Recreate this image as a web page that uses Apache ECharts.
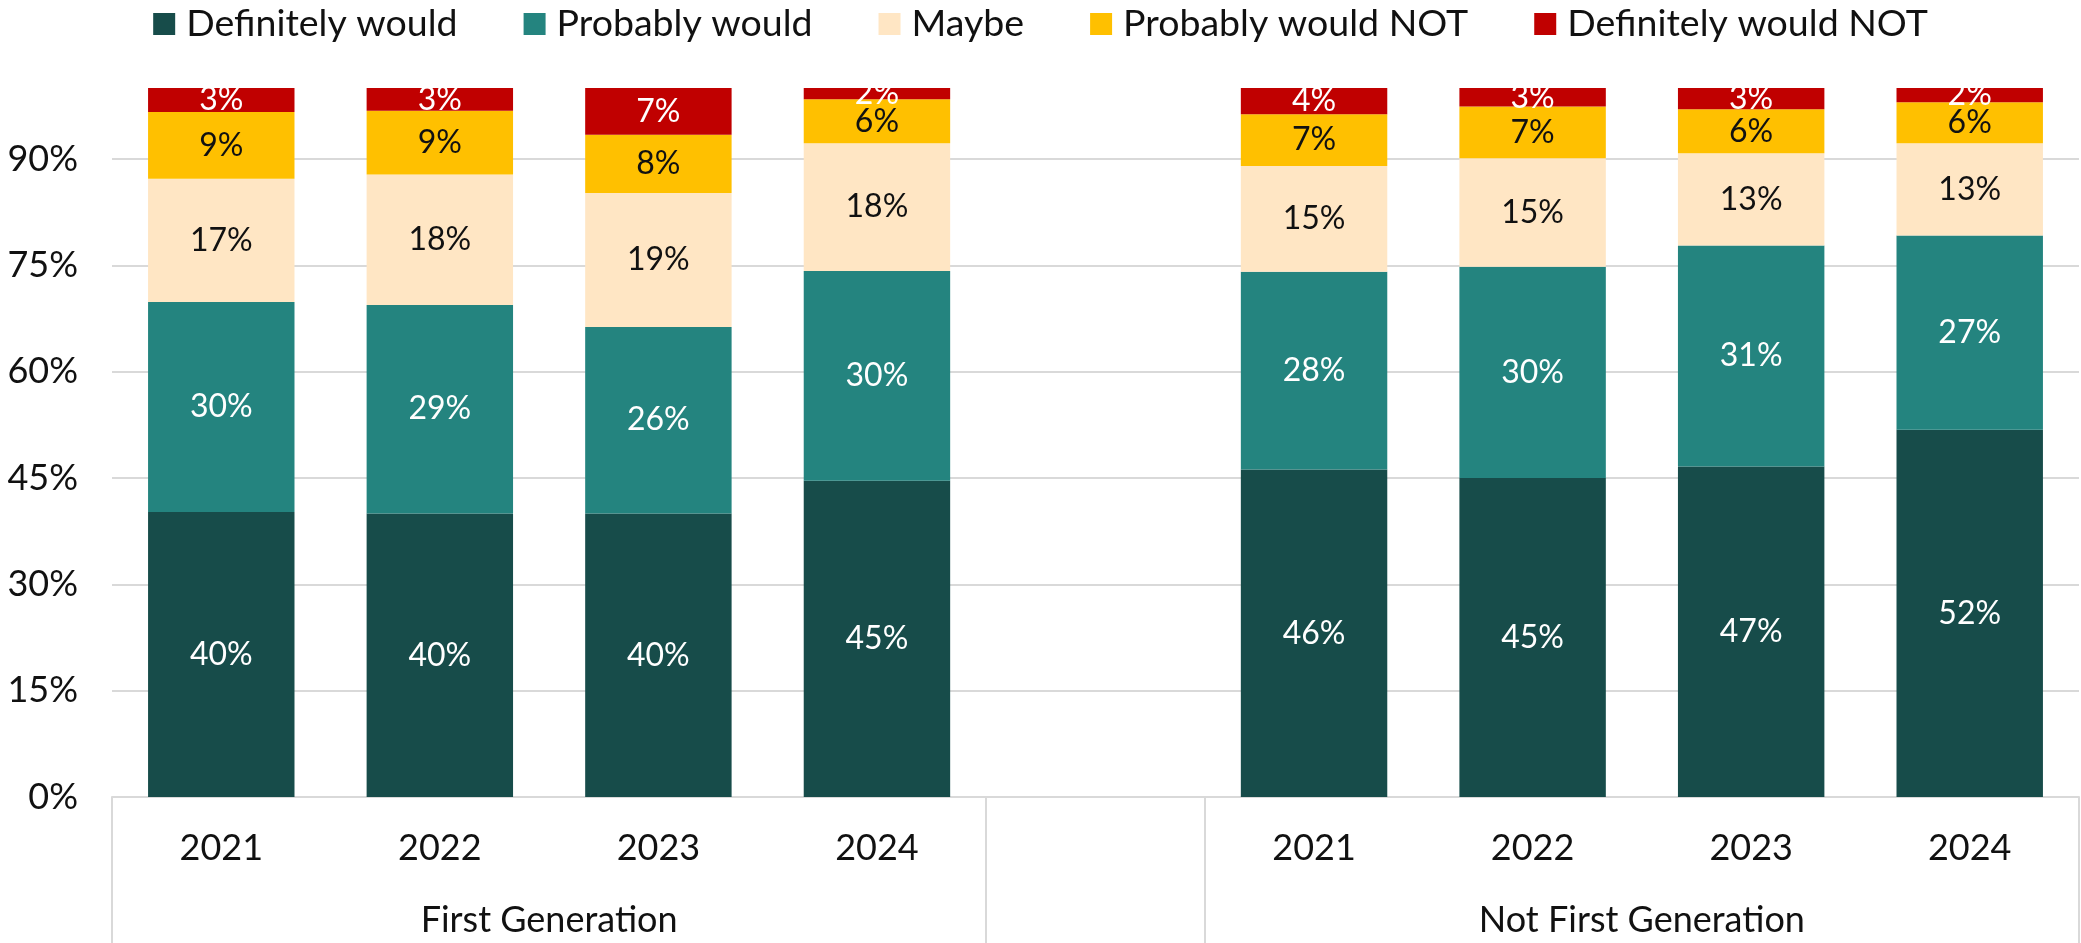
<!DOCTYPE html>
<html>
<head>
<meta charset="utf-8">
<script src="https://cdn.jsdelivr.net/npm/echarts@6.0.0/dist/echarts.min.js"></script>
<style>
html,body{margin:0;padding:0;background:#fff;}
#chart{width:2081px;height:943px;}
</style>
</head>
<body>
<div id="chart"></div>
<script>
// ---- data ----
const years = ['2021', '2022', '2023', '2024'];
const groups = ['First Generation', 'Not First Generation'];
const seriesNames = ['Definitely would', 'Probably would', 'Maybe', 'Probably would NOT', 'Definitely would NOT'];
const yTicks = [0, 15, 30, 45, 60, 75, 90];

// values per year: First Generation (4) then Not First Generation (4)
const definitelyWould   = [40.2, 40.0, 40.0, 44.6, 46.2, 45.0, 46.6, 51.8];
const probablyWould     = [29.6, 29.4, 26.3, 29.6, 27.9, 29.8, 31.2, 27.4];
const maybe             = [17.4, 18.4, 18.9, 18.0, 14.9, 15.3, 13.0, 13.0];
const probablyWouldNot  = [9.4, 9.0, 8.2, 6.2, 7.3, 7.3, 6.2, 5.8];
const definitelyWouldNot= [3.4, 3.2, 6.6, 1.6, 3.7, 2.6, 3.0, 2.0];

const colors = ['#174C4A', '#24847F', '#FFE6C4', '#FFC000', '#C00000'];
const labelColors = ['#ffffff', '#ffffff', '#111111', '#111111', '#ffffff'];

// ---- build ----
const n = years.length;
const xCats = [...years, '', ...years];
function withGap(arr) { return [...arr.slice(0, n), null, ...arr.slice(n)]; }
const allValues = [definitelyWould, probablyWould, maybe, probablyWouldNot, definitelyWouldNot];

const totalCats = xCats.length;
const groupStarts = [0, n + 1];
const boundaries = [0, n, n + 1, totalCats];
const groupCenters = groupStarts.map(s => s + n / 2);

const FONT = 'Lato';
const chart = echarts.init(document.getElementById('chart'), null, {renderer: 'canvas'});

const series = allValues.map((vals, i) => ({
  name: seriesNames[i],
  type: 'bar',
  stack: 'total',
  barCategoryGap: '33%',
  xAxisIndex: 0,
  itemStyle: {color: colors[i]},
  label: {
    show: true,
    position: 'inside',
    color: labelColors[i],
    fontFamily: FONT,
    fontSize: 32,
    formatter: p => (p.value == null ? '' : Math.round(p.value) + '%')
  },
  data: withGap(vals)
}));

chart.setOption({
  animation: false,
  backgroundColor: '#ffffff',
  textStyle: {fontFamily: FONT},
  legend: {
    data: seriesNames,
    top: 0,
    left: 'center',
    icon: 'rect',
    itemWidth: 22,
    itemHeight: 22,
    itemGap: 66,
    textStyle: {fontFamily: FONT, fontSize: 37.5, color: '#111111', padding: [0, 0, 0, 6]}
  },
  grid: {left: 112, right: 2, top: 88, bottom: 146, containLabel: false},
  xAxis: [
    {
      type: 'category',
      data: xCats,
      position: 'bottom',
      axisLine: {show: true, lineStyle: {color: '#d9d9d9', width: 2}},
      axisTick: {show: false},
      splitLine: {show: false},
      axisLabel: {fontFamily: FONT, fontSize: 36, color: '#111111', margin: 33, interval: 0}
    },
    {
      type: 'value',
      min: 0,
      max: totalCats,
      position: 'bottom',
      axisLine: {show: false},
      splitLine: {show: false},
      axisTick: {show: true, customValues: boundaries, length: 150, lineStyle: {color: '#d9d9d9', width: 2}},
      axisLabel: {
        show: true,
        customValues: groupCenters,
        fontFamily: FONT, fontSize: 36, color: '#111111', margin: 105,
        formatter: v => groups[groupCenters.indexOf(v)] || ''
      }
    }
  ],
  yAxis: {
    type: 'value',
    min: 0,
    max: 100,
    interval: 15,
    axisLine: {show: false},
    axisTick: {show: false, customValues: yTicks},
    splitLine: {show: true, lineStyle: {color: '#d9d9d9', width: 2}},
    axisLabel: {
      customValues: yTicks,
      fontFamily: FONT, fontSize: 36, color: '#111111', margin: 34,
      formatter: v => v + '%'
    }
  },
  series: series
});
</script>
</body>
</html>
